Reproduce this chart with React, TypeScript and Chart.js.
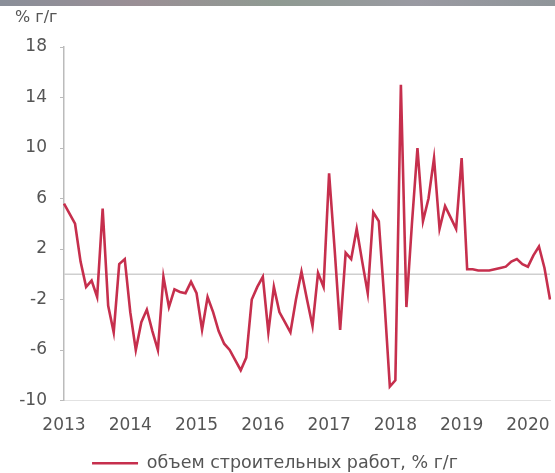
import React, { useEffect, useRef } from "react";
import { Chart, registerables } from "chart.js";

Chart.register(...registerables);

const years = [2013, 2014, 2015, 2016, 2017, 2018, 2019, 2020];
const monthsInLast = 5;

const values = [
  5.6, 4.8, 4.0, 1.0, -1.0, -0.5, -1.8, 5.2, -2.5, -4.6, 0.8, 1.2,
  -3.0, -6.0, -3.8, -2.8, -4.5, -6.0, -0.2, -2.6, -1.2, -1.4, -1.5, -0.6,
  -1.5, -4.4, -1.8, -3.0, -4.5, -5.5, -6.0, -6.8, -7.6, -6.6, -2.0, -1.0,
  -0.2, -4.6, -1.0, -3.0, -3.8, -4.6, -2.0, 0.2, -2.0, -4.1, 0.1, -1.0,
  8.0, 2.0, -4.4, 1.7, 1.2, 3.6, 1.0, -1.5, 4.9, 4.2, -2.0, -8.9,
  -8.4, 15.0, -2.6, 4.0, 10.0, 4.2, 6.0, 9.2, 3.6, 5.4, 4.5, 3.6,
  9.2, 0.4, 0.4, 0.3, 0.3, 0.3, 0.4, 0.5, 0.6, 1.0, 1.2, 0.8,
  0.6, 1.5, 2.2, 0.5, -2.0,
];

const seriesLabel = "объем строительных работ, % г/г";
const axisTitle = "% г/г";
const yMin = -10;
const yMax = 18;
const yStep = 4;
const refValue = 0;

const labels: string[] = [];
years.forEach((y, i) => {
  const n = i === years.length - 1 ? monthsInLast : 12;
  for (let m = 1; m <= n; m++) labels.push(`${y}-${m}`);
});

const zeroLine = {
  id: "zeroLine",
  beforeDatasetsDraw(chart: any) {
    const { ctx, chartArea, scales } = chart;
    const y = scales.y.getPixelForValue(refValue);
    ctx.save();
    ctx.strokeStyle = "#cfcfcf";
    ctx.lineWidth = 1.5;
    ctx.beginPath();
    ctx.moveTo(chartArea.left, y);
    ctx.lineTo(chartArea.right, y);
    ctx.stroke();
    ctx.restore();
  },
};

export default function App() {
  const ref = useRef<HTMLCanvasElement | null>(null);
  useEffect(() => {
    if (!ref.current) return;
    const font = { family: "'DejaVu Sans', 'Liberation Sans', sans-serif", size: 17 };
    const chart = new Chart(ref.current, {
      type: "line",
      data: {
        labels,
        datasets: [
          {
            label: seriesLabel,
            data: values,
            borderColor: "#c62f4d",
            backgroundColor: "#c62f4d",
            borderWidth: 2.6,
            pointRadius: 0,
            tension: 0,
          },
        ],
      },
      options: {
        animation: false,
        responsive: false,
        maintainAspectRatio: false,
        layout: { padding: { left: 0, right: 5, top: 47, bottom: -9 } },
        plugins: {
          title: { display: false },
          legend: {
            position: "bottom",
            labels: {
              color: "#555",
              font: { ...font, size: 17.5 },
              usePointStyle: true,
              pointStyle: "line",
              pointStyleWidth: 46,
              padding: 1,
            },
          },
          tooltip: { enabled: false },
        },
        scales: {
          x: {
            type: "category",
            offset: false,
            grid: { display: false, drawTicks: false },
            border: { display: true, color: "#e2e2e2" },
            ticks: {
              autoSkip: false,
              maxRotation: 0,
              minRotation: 0,
              color: "#555",
              font,
              padding: 15,
              callback: (_v: any, i: number) => {
                const [y, m] = labels[i].split("-");
                return m === "1" ? y : "";
              },
            },
            afterFit: (s: any) => {
              s.height = 53;
              s.paddingRight = 0;
            },
          },
          y: {
            min: yMin,
            max: yMax,
            ticks: { stepSize: yStep, color: "#555", font, padding: 13 },
            grid: {
              display: true,
              drawOnChartArea: false,
              tickColor: "#bbb",
              tickLength: 4,
            },
            border: { display: true, color: "#bbb", width: 1.5 },
            afterFit: (s: any) => {
              s.width = 64;
            },
          },
        },
      },
      plugins: [zeroLine],
    } as any);
    return () => chart.destroy();
  }, []);
  return (
    <div style={{ position: "fixed", left: 0, top: 0, width: 555, height: 473, background: "#fff" }}>
      <div
        style={{
          position: "absolute",
          left: 0,
          top: 0,
          width: 555,
          height: 6,
          background: "linear-gradient(90deg,#8a8f99,#9a8f95,#8f9a92,#9a9aa2,#8f9599)",
        }}
      />
      <div
        style={{
          position: "absolute",
          left: 15,
          top: 7,
          fontFamily: "'DejaVu Sans', 'Liberation Sans', sans-serif",
          fontSize: 16,
          color: "#555",
          lineHeight: "20px",
        }}
      >
        {axisTitle}
      </div>
      <canvas ref={ref} width={555} height={473} style={{ display: "block" }} />
    </div>
  );
}
